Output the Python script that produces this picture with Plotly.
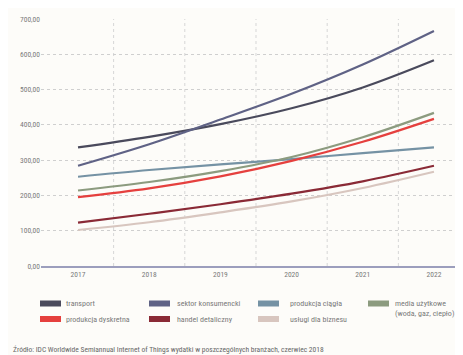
import plotly.graph_objects as go

years = [2017, 2018, 2019, 2020, 2021, 2022]
series_names = ["transport", "sektor konsumencki", "produkcja ciągła", "media użytkowe<br>(woda, gaz, ciepło)",
                "produkcja dyskretna", "handel detaliczny", "usługi dla biznesu"]
transport = [336, 366, 402, 447, 506, 583]
sektor = [284, 345, 415, 488, 571, 666]
ciagla = [253, 272, 288, 303, 320, 336]
media = [214, 238, 269, 309, 365, 434]
dyskretna = [195, 220, 254, 298, 352, 417]
handel = [123, 148, 175, 205, 240, 284]
uslugi = [102, 124, 152, 183, 221, 267]
colors = ["#4a4a5c", "#5f6285", "#7592a4", "#8c9b7f", "#e5403e", "#8a2a36", "#d8c6bf"]
y_ticks = [0, 100, 200, 300, 400, 500, 600, 700]
y_labels = ["0,00", "100,00", "200,00", "300,00", "400,00", "500,00", "600,00", "700,00"]
source = "Źródło: IDC Worldwide Semiannual Internet of Things wydatki w poszczególnych branżach, czerwiec 2018"

values = [transport, sektor, ciagla, media, dyskretna, handel, uslugi]
FONT = "Liberation Sans Narrow, Roboto Condensed, Roboto, sans-serif"
TXT = "#7a7a7a"
W, H = 463, 355

fig = go.Figure()

# vertical dotted separators between years
for xv in [2017.5, 2018.5, 2019.5, 2020.5, 2021.5]:
    fig.add_shape(type="line", xref="x", yref="paper", x0=xv, x1=xv, y0=0, y1=1,
                  line=dict(color="#d6d6d6", width=1, dash="dot"), layer="below")

for name, vals, col in zip(series_names, values, colors):
    fig.add_trace(go.Scatter(x=years, y=vals, mode="lines", name=name,
                             line=dict(color=col, width=2.2, shape="spline", smoothing=1.0),
                             showlegend=False, hoverinfo="skip"))

# manual legend
leg_x = [32, 141, 250, 360]
leg_text_dx = [24, 26, 30, 25]
rows_y = [295.5, 311]
for i, (name, col) in enumerate(zip(series_names, colors)):
    r, c = divmod(i, 4)
    x0 = leg_x[c]
    yc = rows_y[r]
    fig.add_shape(type="rect", xref="paper", yref="paper",
                  x0=(x0 - 33) / 425, x1=(x0 + 21 - 33) / 425,
                  y0=(258 - (yc + 3)) / 247, y1=(258 - (yc - 3)) / 247,
                  fillcolor=col, line=dict(width=0))
    ty = yc + (5 if "<br>" in name else 0)
    fig.add_annotation(xref="paper", yref="paper", x=(x0 + leg_text_dx[c] - 33) / 425,
                       y=(258 - ty) / 247, text=name, showarrow=False, xanchor="left",
                       yanchor="middle", align="left",
                       font=dict(family=FONT, size=8, color=TXT))

fig.add_annotation(xref="paper", yref="paper", x=(3 - 33) / 425, y=(258 - 341.5) / 247,
                   text=source, showarrow=False, xanchor="left", yanchor="middle",
                   font=dict(family=FONT, size=7.5, color="#666666"))

fig.update_layout(
    width=W, height=H,
    margin=dict(l=33, r=5, t=11, b=97),
    paper_bgcolor="#fdfcf9", plot_bgcolor="#fdfcf9",
    font=dict(family=FONT, size=7.5, color=TXT),
    xaxis=dict(range=[2016.48, 2022.45], tickvals=years, ticktext=[str(y) for y in years],
               showgrid=False, zeroline=False, showline=True, linecolor="#9c9ebd", linewidth=2,
               ticks="", tickfont=dict(size=7.5, color=TXT)),
    yaxis=dict(range=[0, 700], tickvals=y_ticks, ticktext=y_labels, showgrid=True,
               gridcolor="#cfcfcf", griddash="dot", gridwidth=1, zeroline=False, showline=False,
               ticks="", tickfont=dict(size=7.5, color=TXT)),
)

fig.write_html("out.html")
